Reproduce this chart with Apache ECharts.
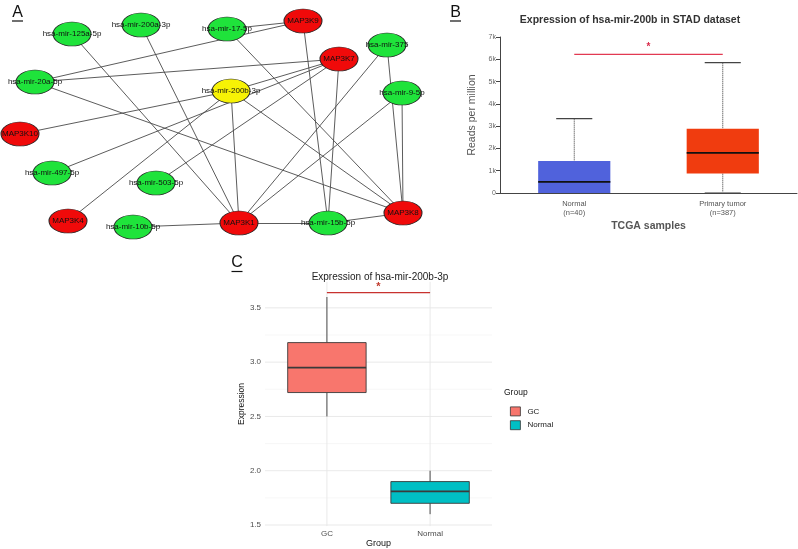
<!DOCTYPE html>
<html><head><meta charset="utf-8">
<script src="https://cdn.jsdelivr.net/npm/echarts@6/dist/echarts.min.js"></script>
<style>html,body{margin:0;padding:0;background:#fff}#c{width:798px;height:549px}</style>
</head><body><div id="c"></div>
<script>
// ---------- Panel A: miRNA–MAP3K network ----------
const nodeNames = ['hsa-mir-125a-5p','hsa-mir-200a-3p','hsa-mir-17-5p','MAP3K9','hsa-mir-375','MAP3K7',
  'hsa-mir-20a-5p','hsa-mir-200b-3p','hsa-mir-9-5p','MAP3K10','hsa-mir-497-5p','hsa-mir-503-5p',
  'MAP3K4','hsa-mir-10b-5p','MAP3K1','hsa-mir-15b-5p','MAP3K8'];
const nodeX = [72,141,227,303,387,339,35,231,402,20,52,156,68,133,239,328,403];
const nodeY = [34,25,29,21,45,59,82,91,93,134,173,183,221,227,223,223,213];
const nodeKind = ['mirna','mirna','mirna','gene','mirna','gene','mirna','hub','mirna','gene','mirna','mirna',
  'gene','mirna','gene','mirna','gene'];
const edgeSource = ['hsa-mir-125a-5p','hsa-mir-200a-3p','hsa-mir-17-5p','hsa-mir-20a-5p','hsa-mir-17-5p','MAP3K9',
  'hsa-mir-20a-5p','hsa-mir-20a-5p','hsa-mir-200b-3p','hsa-mir-200b-3p','hsa-mir-200b-3p','hsa-mir-497-5p',
  'hsa-mir-503-5p','MAP3K7','hsa-mir-375','hsa-mir-375','hsa-mir-9-5p','hsa-mir-9-5p','hsa-mir-200b-3p',
  'hsa-mir-200b-3p','MAP3K1','MAP3K1','hsa-mir-15b-5p'];
const edgeTarget = ['MAP3K1','MAP3K1','MAP3K9','MAP3K9','MAP3K8','hsa-mir-15b-5p',
  'MAP3K7','MAP3K8','MAP3K7','MAP3K10','MAP3K4','MAP3K7',
  'MAP3K7','hsa-mir-15b-5p','MAP3K1','MAP3K8','MAP3K8','MAP3K1','MAP3K1',
  'MAP3K8','hsa-mir-10b-5p','hsa-mir-15b-5p','MAP3K8'];

// ---------- Panel B: TCGA STAD boxplot ----------
const bCategories = ['Normal\n(n=40)', 'Primary tumor\n(n=387)'];
const bLow    = [0, 0];
const bQ1     = [0, 870];
const bMedian = [500, 1800];
const bQ3     = [1440, 2880];
const bHigh   = [3340, 5850];
const bSigY   = 6220;

// ---------- Panel C: GC vs Normal boxplot ----------
const cCategories = ['GC', 'Normal'];
const cLow    = [2.50, 1.60];
const cQ1     = [2.72, 1.70];
const cMedian = [2.95, 1.81];
const cQ3     = [3.18, 1.90];
const cHigh   = [3.60, 2.00];
const cSigY   = 3.64;
const cMajorY = [1.5, 2.0, 2.5, 3.0, 3.5];
const cMinorY = [1.75, 2.25, 2.75, 3.25];

// ---------- styles ----------
const FONT = 'Liberation Sans, Arial, sans-serif';
const kindColor = {mirna:'#1fe33b', gene:'#f00a0a', hub:'#f7f205'};
const bColors = ['#5062dc', '#f03c0f'];
const cColors = ['#f8766d', '#00bfc4'];
const ellipse = 'path://M0,50A50,50 0 1,1 100,50A50,50 0 1,1 0,50Z';

function renderBoxB(params, api) {
  const i = api.value(0);
  const cx = api.coord([i, 0])[0];
  const y = k => api.coord([i, api.value(k)])[1];
  const yLow = y(1), yQ1 = y(2), yMed = y(3), yQ3 = y(4), yHigh = y(5);
  const w = api.size([1, 0])[0] * 0.486, cap = w / 2;
  const ws = {stroke:'#555', lineWidth:1, lineDash:[1.2, 0.8]};
  return {type:'group', children:[
    {type:'line', shape:{x1:cx, y1:yHigh, x2:cx, y2:yQ3}, style:ws},
    {type:'line', shape:{x1:cx, y1:yQ1, x2:cx, y2:yLow}, style:ws},
    {type:'line', shape:{x1:cx-cap/2, y1:yHigh, x2:cx+cap/2, y2:yHigh}, style:{stroke:'#444', lineWidth:1.2}},
    {type:'line', shape:{x1:cx-cap/2, y1:yLow-0.5, x2:cx+cap/2, y2:yLow-0.5}, style:{stroke:'#999', lineWidth:1}},
    {type:'rect', shape:{x:cx-w/2, y:yQ3, width:w, height:yQ1-yQ3}, style:{fill:bColors[i]}},
    {type:'line', shape:{x1:cx-w/2, y1:yMed, x2:cx+w/2, y2:yMed}, style:{stroke:'#111', lineWidth:1.8}}
  ]};
}
function renderBoxC(params, api) {
  const xv = api.value(0);
  const cx = api.coord([xv, 2])[0];
  const y = k => api.coord([xv, api.value(k)])[1];
  const yLow = y(1), yQ1 = y(2), yMed = y(3), yQ3 = y(4), yHigh = y(5);
  const w = api.size([1, 0])[0] * 0.76;
  const ls = {stroke:'#3a3a3a', lineWidth:0.9};
  return {type:'group', children:[
    {type:'line', shape:{x1:cx, y1:yHigh, x2:cx, y2:yQ3}, style:ls},
    {type:'line', shape:{x1:cx, y1:yQ1, x2:cx, y2:yLow}, style:ls},
    {type:'rect', shape:{x:cx-w/2, y:yQ3, width:w, height:yQ1-yQ3}, style:{fill:api.visual('color'), stroke:'#3a3a3a', lineWidth:0.9}},
    {type:'line', shape:{x1:cx-w/2, y1:yMed, x2:cx+w/2, y2:yMed}, style:{stroke:'#3a3a3a', lineWidth:1.8}}
  ]};
}
function renderSig(color, starColor, starDy, starSize) {
  return function (params, api) {
    const p1 = api.coord([api.value(0), api.value(2)]);
    const p2 = api.coord([api.value(1), api.value(2)]);
    return {type:'group', children:[
      {type:'line', shape:{x1:p1[0], y1:p1[1], x2:p2[0], y2:p2[1]}, style:{stroke:color, lineWidth:1.2}},
      {type:'text', x:(p1[0]+p2[0])/2, y:p1[1]-starDy, style:{text:'*', fill:starColor, fontSize:starSize,
        fontWeight:'bold', fontFamily:FONT, align:'center', verticalAlign:'middle'}}
    ]};
  };
}
function renderHGrid(params, api) {
  const yy = api.coord([1, api.value(1)])[1];
  const cs = params.coordSys;
  const major = api.value(2) === 1;
  return {type:'line', shape:{x1:cs.x, y1:yy, x2:cs.x+cs.width, y2:yy},
    style:{stroke: major ? '#e6e6e6' : '#f2f2f2', lineWidth: major ? 0.9 : 0.6}};
}
function renderVGrid(params, api) {
  const xx = api.coord([api.value(0), 2])[0];
  const cs = params.coordSys;
  return {type:'line', shape:{x1:xx, y1:cs.y, x2:xx, y2:cs.y+cs.height}, style:{stroke:'#e6e6e6', lineWidth:0.9}};
}

function textEl(text, x, y, size, color, weight, rot) {
  return {type:'text', x:x, y:y, rotation: rot || 0, z:10,
    style:{text:text, fill:color, fontSize:size, fontWeight:weight||'normal', fontFamily:FONT, align:'center', verticalAlign:'middle'}};
}
function letter(t, x, y) {
  return [
    {type:'text', x:x, y:y, z:10, style:{text:t, fill:'#111', fontSize:16, fontFamily:FONT, align:'center', verticalAlign:'middle'}},
    {type:'line', z:10, shape:{x1:x-5.5, y1:y+8.5, x2:x+5.5, y2:y+8.5}, style:{stroke:'#111', lineWidth:1.2}}
  ];
}

const chart = echarts.init(document.getElementById('c'), null, {renderer:'canvas'});
chart.setOption({
  animation:false,
  backgroundColor:'#fff',
  textStyle:{fontFamily:FONT},
  grid:[
    {left:0, top:0, width:420, height:240},
    {left:500, top:37, width:297, height:156},
    {left:265, top:281.8, width:227, height:245.3}
  ],
  xAxis:[
    {gridIndex:0, type:'value', min:0, max:420, show:false},
    {gridIndex:1, type:'category', data:bCategories,
      axisLine:{lineStyle:{color:'#444', width:1}}, axisTick:{show:false},
      axisLabel:{fontSize:7.5, color:'#555', lineHeight:9, margin:6},
      name:'TCGA samples', nameLocation:'middle', nameGap:28,
      nameTextStyle:{fontSize:10.5, fontWeight:'bold', color:'#555'}},
    {gridIndex:2, type:'value', min:0.4, max:2.6,
      axisLine:{show:false}, axisTick:{show:false}, splitLine:{show:false},
      axisLabel:{customValues:[1, 2], formatter:v => cCategories[Math.round(v)-1], fontSize:8, color:'#4d4d4d', margin:4},
      name:'Group', nameLocation:'middle', nameGap:10, nameTextStyle:{fontSize:9, color:'#111'}}
  ],
  yAxis:[
    {gridIndex:0, type:'value', min:0, max:240, inverse:true, show:false},
    {gridIndex:1, type:'value', min:0, max:7000, interval:1000,
      axisLine:{show:true, lineStyle:{color:'#444'}}, axisTick:{show:true, length:4, lineStyle:{color:'#444'}},
      splitLine:{show:false},
      axisLabel:{fontSize:7, color:'#666', margin:4, formatter:v => v === 0 ? '0' : (v/1000) + 'k'},
      name:'Reads per million', nameLocation:'middle', nameGap:22, nameTextStyle:{fontSize:10.5, color:'#555'}},
    {gridIndex:2, type:'value', min:1.49, max:3.74,
      axisLine:{show:false}, axisTick:{show:false}, splitLine:{show:false},
      axisLabel:{customValues:cMajorY, formatter:v => v.toFixed(1), fontSize:8, color:'#4d4d4d', margin:4},
      name:'Expression', nameLocation:'middle', nameGap:16, nameTextStyle:{fontSize:8.5, color:'#111'}}
  ],
  legend:{data:cCategories, orient:'vertical', left:505, top:401.5, itemWidth:10, itemHeight:9, itemGap:4,
    icon:'rect', selectedMode:false, textStyle:{fontSize:8, color:'#222', padding:[0,0,0,2]},
    itemStyle:{borderColor:'#333', borderWidth:0.8}},
  graphic:[].concat(
    letter('A', 17.5, 12.5), letter('B', 455.5, 12.5), letter('C', 237, 263),
    [textEl('Expression of hsa-mir-200b in STAD dataset', 630, 20, 10.5, '#333', 'bold'),
     textEl('Expression of hsa-mir-200b-3p', 380, 277, 10, '#222'),
     {type:'text', x:504, y:393, z:10, style:{text:'Group', fill:'#111', fontSize:8.5, fontFamily:FONT, align:'left', verticalAlign:'middle'}}]
  ),
  series:[
    {type:'graph', coordinateSystem:'cartesian2d', xAxisIndex:0, yAxisIndex:0, silent:true,
      symbol:ellipse, symbolSize:[38, 24],
      data:nodeNames.map((n, i) => ({name:n, value:[nodeX[i], nodeY[i]],
        itemStyle:{color:kindColor[nodeKind[i]], borderColor:'#222', borderWidth:0.8}})),
      links:edgeSource.map((s, i) => ({source:s, target:edgeTarget[i]})),
      lineStyle:{color:'#4a4a4a', width:0.9, opacity:1, curveness:0},
      label:{show:true, position:'inside', fontSize:8, color:'#111', fontFamily:FONT}},
    {type:'custom', xAxisIndex:1, yAxisIndex:1, silent:true, renderItem:renderBoxB,
      encode:{x:0, y:[1,2,3,4,5]},
      data:bCategories.map((c, i) => [i, bLow[i], bQ1[i], bMedian[i], bQ3[i], bHigh[i]])},
    {type:'custom', xAxisIndex:1, yAxisIndex:1, silent:true, renderItem:renderSig('#e23a52', '#d92b4b', 7, 10),
      encode:{x:[0,1], y:2}, data:[[0, 1, bSigY]]},
    {type:'custom', xAxisIndex:2, yAxisIndex:2, silent:true, z:0, renderItem:renderHGrid,
      encode:{x:0, y:1},
      data:cMajorY.map(v => [1, v, 1]).concat(cMinorY.map(v => [1, v, 0]))},
    {type:'custom', xAxisIndex:2, yAxisIndex:2, silent:true, z:0, renderItem:renderVGrid,
      encode:{x:0, y:1}, data:cCategories.map((c, i) => [i+1, 2])},
  ].concat(cCategories.map((c, i) => ({
      type:'custom', name:c, xAxisIndex:2, yAxisIndex:2, silent:true, z:2, renderItem:renderBoxC,
      itemStyle:{color:cColors[i]},
      encode:{x:0, y:[1,2,3,4,5]},
      data:[[i+1, cLow[i], cQ1[i], cMedian[i], cQ3[i], cHigh[i]]]
    }))).concat([
    {type:'custom', xAxisIndex:2, yAxisIndex:2, silent:true, z:3, renderItem:renderSig('#c8322f', '#c0392b', 6, 11),
      encode:{x:[0,1], y:2}, data:[[1, 2, cSigY]]}
  ])
});
</script></body></html>
